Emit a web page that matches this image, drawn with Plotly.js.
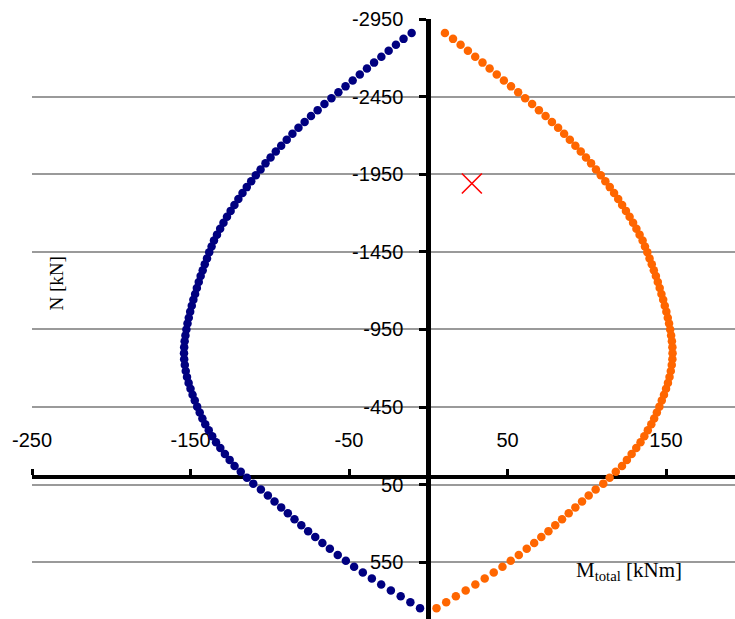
<!DOCTYPE html>
<html>
<head>
<meta charset="utf-8">
<script src="https://cdn.plot.ly/plotly-3.0.1.min.js"></script>
<style>html,body{margin:0;padding:0;background:#fff;}#chart{width:735px;height:619px;}</style>
</head>
<body>
<div id="chart"></div>
<script>
// Axial force N [kN] (shared by both branches)
var N = [-2860,-2822,-2784,-2745,-2707,-2669,-2631,-2593,-2554,-2516,
  -2478,-2440,-2402,-2363,-2325,-2287,-2249,-2211,-2172,-2134,
  -2096,-2058,-2020,-1981,-1943,-1905,-1867,-1829,-1790,-1752,
  -1714,-1676,-1638,-1599,-1561,-1523,-1485,-1447,-1408,-1370,
  -1332,-1294,-1256,-1217,-1179,-1141,-1103,-1065,-1026,-988,
  -950,-912,-874,-835,-797,-759,-721,-683,-644,-606,
  -568,-530,-492,-453,-415,-377,-339,-301,-262,-224,
  -186,-148,-110,-71,-33,5,43,81,120,158,
  196,234,272,311,349,387,425,463,502,540,
  578,616,654,693,731,769,807,845];
// Moment, negative branch [kNm]
var M_neg = [-10.5,-15.6,-20.4,-25.0,-29.6,-34.2,-38.7,-43.2,-47.7,-52.2,
  -56.7,-61.1,-65.5,-69.8,-74.0,-78.0,-81.9,-85.7,-89.3,-92.8,
  -96.2,-99.5,-102.7,-105.8,-108.8,-111.7,-114.5,-117.2,-119.8,-122.3,
  -124.7,-127.0,-129.2,-131.3,-133.3,-135.2,-136.7,-138.2,-139.6,-141.0,
  -142.3,-143.6,-144.8,-146.0,-147.1,-148.2,-149.2,-150.2,-151.1,-151.9,
  -152.6,-153.2,-153.7,-154.0,-154.1,-154.0,-153.6,-153.0,-152.2,-151.2,
  -150.0,-148.7,-147.3,-145.8,-144.2,-142.5,-140.7,-138.5,-136.3,-133.9,
  -131.2,-128.3,-125.3,-122.2,-118.3,-114.4,-110.4,-105.6,-101.2,-97.0,
  -92.8,-88.6,-84.4,-80.1,-75.8,-71.3,-66.8,-62.1,-57.1,-52.0,
  -46.8,-41.3,-35.6,-29.7,-23.6,-17.4,-11.3,-5.2];
// Moment, positive branch [kNm]
var M_pos = [10.5,15.6,20.4,25.0,29.6,34.2,38.7,43.2,47.7,52.2,
  56.7,61.1,65.5,69.8,74.0,78.0,81.9,85.7,89.3,92.8,
  96.2,99.5,102.7,105.8,108.8,111.7,114.5,117.2,119.8,122.3,
  124.7,127.0,129.2,131.3,133.3,135.2,136.7,138.2,139.6,141.0,
  142.3,143.6,144.8,146.0,147.1,148.2,149.2,150.2,151.1,151.9,
  152.6,153.2,153.7,154.0,154.1,154.0,153.6,153.0,152.2,151.2,
  150.0,148.7,147.3,145.8,144.2,142.5,140.7,138.5,136.3,133.9,
  131.2,128.3,125.3,122.2,118.3,114.4,110.4,105.6,101.2,97.0,
  92.8,88.6,84.4,80.1,75.8,71.3,66.8,62.1,57.1,52.0,
  46.8,41.3,35.6,29.7,23.6,17.4,11.3,5.2];
// Design load point
var loadM = [27.5];
var loadN = [-1890];

// Tick labels (hyphen minus, as in the reference)
var xTickVals = [-250, -150, -50, 50, 150];
var xTickText = ['-250', '-150', '-50', '50', '150'];
var yTickVals = [-2950, -2450, -1950, -1450, -950, -450, 50, 550];
var yTickText = ['-2950', '-2450', '-1950', '-1450', '-950', '-450', '50', '550'];

var xRange = [-250, 193.5];
var yRange = [915, -2950];

var traces = [
  {x: M_neg, y: N, mode: 'markers', type: 'scatter', name: 'M-',
   marker: {color: '#000080', size: 8.5}},
  {x: M_pos, y: N, mode: 'markers', type: 'scatter', name: 'M+',
   marker: {color: '#FF6600', size: 8.5}},
  {x: loadM, y: loadN, mode: 'markers', type: 'scatter', name: 'Ed',
   marker: {symbol: 'x-thin', size: 20, color: '#FF0000', line: {color: '#FF0000', width: 1.6}}}
];

var xPos = (yRange[0] - 0) / (yRange[0] - yRange[1]);
var yPos = (0 - xRange[0]) / (xRange[1] - xRange[0]);
var tickFont = {family: 'Liberation Sans, Arial, sans-serif', size: 20, color: '#000'};

var layout = {
  width: 735, height: 619,
  margin: {l: 32, r: 0, t: 19, b: 0, pad: 0},
  paper_bgcolor: '#fff', plot_bgcolor: '#fff',
  showlegend: false,
  xaxis: {
    range: xRange, tickmode: 'array', tickvals: xTickVals, ticktext: xTickText,
    showgrid: false, zeroline: false,
    showline: true, linecolor: '#000', linewidth: 4.5,
    anchor: 'free', position: xPos, side: 'top',
    ticks: 'outside', ticklen: 6, tickwidth: 3, tickcolor: '#000',
    ticklabelstandoff: 14,
    tickfont: tickFont, layer: 'below traces'
  },
  yaxis: {
    range: yRange, tickmode: 'array', tickvals: yTickVals, ticktext: yTickText,
    showgrid: true, gridcolor: '#9a9a9a', gridwidth: 2, zeroline: false,
    showline: true, linecolor: '#000', linewidth: 4.5,
    anchor: 'free', position: yPos, side: 'left',
    ticks: 'outside', ticklen: 7, tickwidth: 3, tickcolor: '#000',
    ticklabelstandoff: 12,
    tickfont: tickFont, layer: 'below traces'
  },
  annotations: [
    {text: 'N [kN]', xref: 'paper', yref: 'paper', x: (56 - 32) / 703, y: (619 - 283.5) / 600,
     xanchor: 'center', yanchor: 'middle', textangle: -90, showarrow: false,
     font: {family: 'Liberation Serif, Times New Roman, serif', size: 19, color: '#000'}},
    {text: 'M<sub>total</sub> [kNm]', xref: 'paper', yref: 'paper', x: (628.5 - 32) / 703, y: (619 - 571) / 600,
     xanchor: 'center', yanchor: 'middle', showarrow: false,
     font: {family: 'Liberation Serif, Times New Roman, serif', size: 21, color: '#000'}}
  ]
};

Plotly.newPlot('chart', traces, layout, {staticPlot: true, displayModeBar: false});
</script>
</body>
</html>
